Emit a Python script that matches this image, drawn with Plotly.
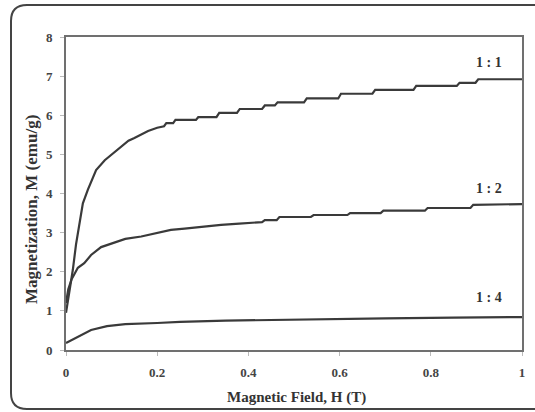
import plotly.graph_objects as go

# 1:1 sample
H1 = [0, 0.006, 0.015, 0.022, 0.031, 0.037, 0.048, 0.066, 0.085, 0.11, 0.125, 0.137,
      0.15, 0.165, 0.18, 0.2, 0.215, 0.22, 0.235, 0.24, 0.285, 0.29, 0.33, 0.336,
      0.375, 0.381, 0.43, 0.436, 0.458, 0.464, 0.522, 0.528, 0.597, 0.603, 0.672,
      0.678, 0.762, 0.768, 0.857, 0.863, 0.898, 0.904, 1.0]
M1 = [0.95, 1.35, 2.05, 2.7, 3.4, 3.75, 4.1, 4.6, 4.85, 5.1, 5.25, 5.35,
      5.42, 5.5, 5.6, 5.68, 5.72, 5.8, 5.8, 5.88, 5.88, 5.95, 5.95, 6.06,
      6.06, 6.16, 6.16, 6.25, 6.25, 6.33, 6.33, 6.43, 6.43, 6.55, 6.55,
      6.65, 6.65, 6.75, 6.75, 6.83, 6.83, 6.92, 6.92]

# 1:2 sample
H2 = [0, 0.005, 0.012, 0.015, 0.026, 0.04, 0.055, 0.077, 0.1, 0.13, 0.165, 0.2,
      0.23, 0.26, 0.3, 0.34, 0.38, 0.43, 0.436, 0.462, 0.468, 0.537, 0.543, 0.617,
      0.623, 0.69, 0.696, 0.787, 0.793, 0.887, 0.893, 1.0]
M2 = [1.2, 1.55, 1.8, 1.87, 2.1, 2.22, 2.43, 2.63, 2.73, 2.84, 2.9, 3.0,
      3.07, 3.1, 3.15, 3.2, 3.23, 3.27, 3.32, 3.32, 3.4, 3.4, 3.45, 3.45,
      3.5, 3.5, 3.56, 3.56, 3.63, 3.63, 3.71, 3.73]

# 1:4 sample
H4 = [0, 0.026, 0.055, 0.09, 0.13, 0.2, 0.25, 0.35, 0.5, 0.7, 0.85, 1.0]
M4 = [0.18, 0.33, 0.51, 0.61, 0.66, 0.69, 0.72, 0.75, 0.78, 0.81, 0.83, 0.84]

series = [("1 : 1", H1, M1), ("1 : 2", H2, M2), ("1 : 4", H4, M4)]
label_pos = {"1 : 1": 7.34, "1 : 2": 4.12, "1 : 4": 1.33}

x_ticks = [0, 0.2, 0.4, 0.6, 0.8, 1]
x_tick_text = ["0", "0.2", "0.4", "0.6", "0.8", "1"]
y_ticks = [0, 1, 2, 3, 4, 5, 6, 7, 8]
y_tick_text = [str(v) for v in y_ticks]

LINE = "#3a3a3a"
fig = go.Figure()
for name, hx, my in series:
    fig.add_trace(go.Scatter(x=hx, y=my, mode="lines", name=name,
                             line=dict(color=LINE, width=2.2), showlegend=False))
    fig.add_annotation(x=0.928, y=label_pos[name], text="<b>%s</b>" % name,
                       showarrow=False, xref="x", yref="y",
                       xanchor="center", yanchor="middle",
                       font=dict(family="Liberation Serif", size=14, color="#333"))

W, Hh = 535, 412
L, R, T, B = 66, 13, 37, 62
pw, ph = W - L - R, Hh - T - B


def px(xp):
    return (xp - L) / pw


def py(yp):
    return (Hh - B - yp) / ph


x0, x1 = px(11), px(560)
y0, y1 = py(409), py(5)
rx, ry = 16 / pw, 16 / ph
path = (f"M {x0},{y0+ry} L {x0},{y1-ry} Q {x0},{y1} {x0+rx},{y1} "
        f"L {x1},{y1} M {x0},{y0+ry} Q {x0},{y0} {x0+rx},{y0} L {x1},{y0}")
fig.add_shape(type="path", path=path, xref="paper", yref="paper",
              line=dict(color="#444", width=2))

# axis titles as annotations
fig.add_annotation(x=px(296), y=py(397), xref="paper", yref="paper",
                   xanchor="center", yanchor="middle",
                   text="<b>Magnetic Field, H (T)</b>", showarrow=False,
                   font=dict(family="Liberation Serif", size=15, color="#333"))
fig.add_annotation(x=px(31), y=py(210), xref="paper", yref="paper",
                   xanchor="center", yanchor="middle",
                   text="<b>Magnetization, M (emu/g)</b>", showarrow=False,
                   textangle=-90,
                   font=dict(family="Liberation Serif", size=17, color="#333"))

tickfont = dict(family="Liberation Serif", size=13, color="#444")
fig.update_xaxes(range=[0, 1], tickvals=x_ticks,
                 ticktext=["<b>%s</b>" % t for t in x_tick_text],
                 showline=True, linecolor="#707070", linewidth=2, mirror=True,
                 ticks="outside", ticklen=4, tickcolor="#bbb", showgrid=False,
                 zeroline=False, tickfont=tickfont, automargin=False,
                 ticklabelstandoff=5)
fig.update_yaxes(range=[0, 8], tickvals=y_ticks,
                 ticktext=["<b>%s</b>" % t for t in y_tick_text],
                 showline=True, linecolor="#707070", linewidth=2, mirror=True,
                 ticks="outside", ticklen=4, tickcolor="#bbb", showgrid=False,
                 zeroline=False, tickfont=tickfont, automargin=False,
                 ticklabelstandoff=5)
fig.update_layout(width=W, height=Hh, margin=dict(l=L, r=R, t=T, b=B),
                  paper_bgcolor="white", plot_bgcolor="white")
fig.write_html("out.html", config={"displayModeBar": False},
               post_script="document.body.style.margin='0';document.body.style.overflow='hidden';")
